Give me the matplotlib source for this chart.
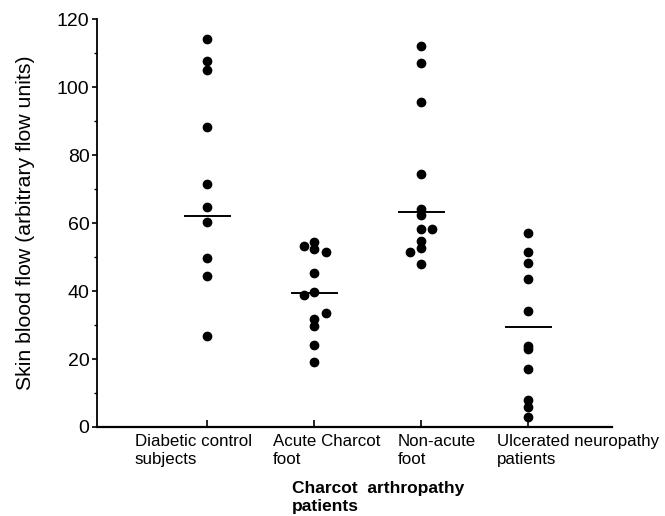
import matplotlib
matplotlib.use("Agg")
import matplotlib.pyplot as plt
from matplotlib.ticker import MultipleLocator

plt.rcParams["font.family"] = ["Liberation Sans", "DejaVu Sans"]

# group positions on the x axis
groups = ["Diabetic control\nsubjects", "Acute Charcot\nfoot", "Non-acute\nfoot",
          "Ulcerated neuropathy\npatients"]
label_left = [0.32, 1.61, 2.78, 3.71]

# skin blood flow, with a small sideways nudge for overlapping dots
control_flow = [114, 107.8, 105, 88.3, 71.6, 64.6, 60.2, 49.6, 44.3, 26.7]
control_nudge = [0, 0, 0, 0, 0, 0, 0, 0, 0, 0]
acute_flow = [54.3, 52.4, 53.1, 51.4, 45.2, 39.7, 38.7, 33.6, 31.9, 29.7, 24.0, 19.1]
acute_nudge = [0, 0, -0.1, 0.11, 0, 0, -0.1, 0.11, 0, 0, 0, 0]
nonacute_flow = [112, 107, 95.7, 74.4, 64.1, 62.5, 58.3, 58.3, 54.6, 52.6, 51.6, 48.0]
nonacute_nudge = [0, 0, 0, 0, 0, 0, 0, 0.1, 0, 0, -0.11, 0]
ulcer_flow = [57, 51.4, 48.3, 43.4, 34.1, 23.7, 22.9, 17.0, 7.9, 5.8, 2.9]
ulcer_nudge = [0, 0, 0, 0, 0, 0, 0, 0, 0, 0, 0]

# horizontal bars (group averages as drawn)
bar_level = [62, 39.5, 63.3, 29.5]

flows = [control_flow, acute_flow, nonacute_flow, ulcer_flow]
nudges = [control_nudge, acute_nudge, nonacute_nudge, ulcer_nudge]

fig = plt.figure(figsize=(6.65, 5.16), dpi=100)
ax = fig.add_axes([0.146, 0.1725, 0.774, 0.7905])

for i, (vals, dx) in enumerate(zip(flows, nudges)):
    pos = i + 1
    ax.plot([pos + d for d in dx], vals, "o", color="black", markersize=6,
            linestyle="none", clip_on=False)
    ax.plot([pos - 0.21, pos + 0.21], [bar_level[i]] * 2, color="black", linewidth=1.4)

ax.set_xlim(-0.03, 4.78)
ax.set_ylim(0, 120)
ax.spines["top"].set_visible(False)
ax.spines["right"].set_visible(False)
ax.spines["left"].set_linewidth(1.3)
ax.spines["bottom"].set_linewidth(1.6)

ax.yaxis.set_major_locator(MultipleLocator(20))
ax.yaxis.set_minor_locator(MultipleLocator(10))
ax.tick_params(axis="y", which="major", direction="out", length=3.5, width=1.2,
               labelsize=14, pad=2)
ax.tick_params(axis="y", which="minor", direction="out", length=2, width=1)
ax.set_xticks([1, 2, 3, 4])
ax.set_xticklabels([])
ax.tick_params(axis="x", direction="in", length=5, width=1.2)

for x, lab in zip(label_left, groups):
    ax.text(x, -2.2, lab, ha="left", va="top", fontsize=12.2, linespacing=1.22,
            clip_on=False)

ax.text(1.79, -16.0, "Charcot  arthropathy\npatients", ha="left", va="top",
        fontsize=12.5, fontweight="bold", linespacing=1.18, clip_on=False)

ax.set_ylabel("Skin blood flow (arbitrary flow units)", fontsize=15.3, labelpad=16)

fig.savefig("out.png", dpi=100)
plt.close(fig)
